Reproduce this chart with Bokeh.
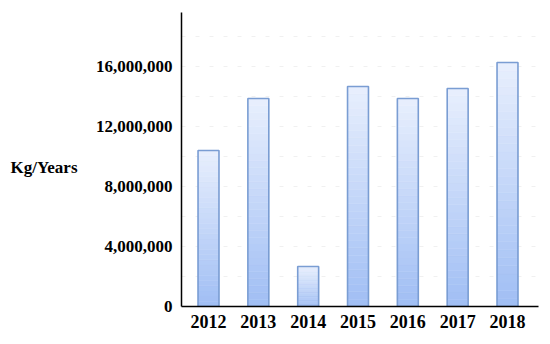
from bokeh.plotting import figure
from bokeh.models import Range1d, FixedTicker, NumeralTickFormatter, LinearAxis
from bokeh.embed import file_html
from bokeh.resources import INLINE

years = ["2012", "2013", "2014", "2015", "2016", "2017", "2018"]
values = [10400000, 13870000, 2670000, 14670000, 13870000, 14530000, 16270000]
y_ticks = [0, 4000000, 8000000, 12000000, 16000000]
grid_ticks = [2000000, 4000000, 6000000, 8000000, 10000000, 12000000, 14000000, 16000000, 18000000]
y_label = "Kg/Years"
y_label_pos = 9270000

FONT = "Liberation Serif"

x0, x1 = -0.542, 6.622
p = figure(width=546, height=338, output_backend="svg", toolbar_location=None,
           x_range=Range1d(x0, x1), y_range=Range1d(0, 19600000),
           min_border_left=181, min_border_right=8, min_border_top=12, min_border_bottom=32)
p.outline_line_color = None
p.background_fill_color = "white"
p.border_fill_color = "white"

xs = list(range(len(years)))
width = 0.42

# gradient fill via stacked slices (light at top, blue at bottom)
N = 30
c_bot = (160, 190, 244)
c_top = (232, 239, 253)
for k in range(N):
    t = (k + 0.5) / N
    col = "#%02x%02x%02x" % tuple(int(round(c_bot[j] + (c_top[j] - c_bot[j]) * t)) for j in range(3))
    bottoms = [v * k / N for v in values]
    tops = [v * (k + 1) / N for v in values]
    p.vbar(x=xs, bottom=bottoms, top=tops, width=width, fill_color=col, line_color=col, line_width=0.5)

p.vbar(x=xs, top=values, width=width, fill_alpha=0, line_color="#7a9dd3", line_width=1.6)

# axes
p.xaxis.ticker = FixedTicker(ticks=xs)
p.xaxis.major_label_overrides = {i: y for i, y in enumerate(years)}
p.yaxis.ticker = FixedTicker(ticks=y_ticks)
p.yaxis.formatter = NumeralTickFormatter(format="0,0")
for ax in (p.xaxis, p.yaxis):
    ax.axis_line_color = "black"
    ax.axis_line_width = 1.5
    ax.major_tick_line_color = None
    ax.minor_tick_line_color = None
    ax.major_label_text_font = FONT
    ax.major_label_text_font_style = "bold"
    ax.major_label_text_color = "black"
p.xaxis.major_label_text_font_size = "18px"
p.yaxis.major_label_text_font_size = "17px"
p.yaxis.major_label_standoff = 3
p.xaxis.major_label_standoff = 2

# horizontal y-axis title as an extra left axis
title_axis = LinearAxis(ticker=FixedTicker(ticks=[y_label_pos]),
                        major_label_overrides={y_label_pos: y_label},
                        axis_line_color=None, major_tick_line_color=None,
                        minor_tick_line_color=None, major_label_standoff=9,
                        major_label_text_font=FONT, major_label_text_font_style="bold",
                        major_label_text_font_size="17px", major_label_text_color="black")
p.add_layout(title_axis, "left")

p.xgrid.grid_line_color = None
p.ygrid.ticker = FixedTicker(ticks=grid_ticks)
p.ygrid.grid_line_color = "#e6e6e6"
p.ygrid.grid_line_dash = "4 10"
p.ygrid.grid_line_alpha = 0.6

open("out.html", "w").write(file_html(p, INLINE))
